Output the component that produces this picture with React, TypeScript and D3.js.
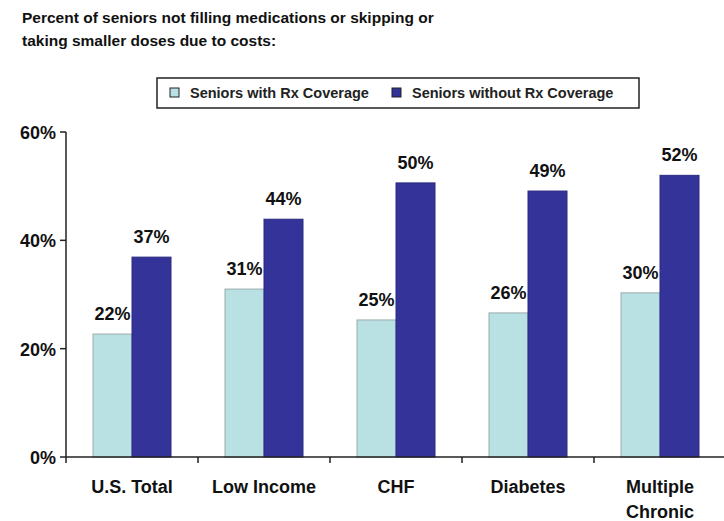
import React, { useEffect, useRef } from 'react';
import * as d3 from 'd3';

const categories = ['U.S. Total', 'Low Income', 'CHF', 'Diabetes', 'Multiple Chronic'];
const withCoverage = [22.7, 31.0, 25.3, 26.6, 30.3];
const withoutCoverage = [36.9, 43.9, 50.6, 49.1, 52.0];
const withLabels = ['22%', '31%', '25%', '26%', '30%'];
const withoutLabels = ['37%', '44%', '50%', '49%', '52%'];
const yTicks = [0, 20, 40, 60];
const seriesNames = ['Seniors with Rx Coverage', 'Seniors without Rx Coverage'];
const colors = ['#b9e1e4', '#333399'];

function App() {
	const ref = useRef<SVGSVGElement>(null);

	useEffect(() => {
		const svg = d3.select(ref.current);
		svg.selectAll('*').remove();

		const font = 'Liberation Sans, Arial, sans-serif';
		const left = 66;
		const right = 726;
		const top = 132;
		const bottom = 457;

		const x = d3.scaleBand().domain(categories).range([left, right]).paddingInner(0).paddingOuter(0);
		const sub = d3.scaleBand().domain(['0', '1']).range([0, 78]);
		const y = d3.scaleLinear().domain([0, 60]).range([bottom, top]);
		const off = (x.bandwidth() - 78) / 2;

		// title
		const title = svg.append('text')
			.attr('font-family', font)
			.attr('font-size', '15.5px')
			.attr('font-weight', 'bold')
			.attr('fill', '#111');
		title.append('tspan').attr('x', 22).attr('y', 23).text('Percent of seniors not filling medications or skipping or');
		title.append('tspan').attr('x', 22).attr('y', 46).text('taking smaller doses due to costs:');

		// legend
		svg.append('rect')
			.attr('x', 157).attr('y', 78).attr('width', 482).attr('height', 30)
			.attr('fill', 'white').attr('stroke', '#222').attr('stroke-width', 1.5);
		const legX = [170, 392];
		seriesNames.forEach((name, i) => {
			svg.append('rect')
				.attr('x', legX[i]).attr('y', 88).attr('width', 9).attr('height', 9)
				.attr('fill', colors[i]).attr('stroke', '#222').attr('stroke-width', 1);
			svg.append('text')
				.attr('x', legX[i] + 20).attr('y', 98)
				.attr('font-family', font)
				.attr('font-size', '14.5px')
				.attr('font-weight', 'bold')
				.attr('fill', '#222')
				.text(name);
		});

		// y axis
		svg.append('line')
			.attr('x1', left).attr('x2', left).attr('y1', top).attr('y2', bottom)
			.attr('stroke', '#222').attr('stroke-width', 1.5);
		svg.selectAll('.ytick')
			.data(yTicks)
			.enter()
			.append('line')
			.attr('x1', left - 6).attr('x2', left)
			.attr('y1', d => y(d)).attr('y2', d => y(d))
			.attr('stroke', '#222').attr('stroke-width', 1.5);
		svg.selectAll('.ylab')
			.data(yTicks)
			.enter()
			.append('text')
			.attr('x', left - 10)
			.attr('y', d => y(d) + 7)
			.attr('text-anchor', 'end')
			.attr('font-family', font)
			.attr('font-size', '18px')
			.attr('font-weight', 'bold')
			.attr('fill', '#111')
			.text(d => d + '%');

		// bars
		const series = [withCoverage, withoutCoverage];
		const labels = [withLabels, withoutLabels];
		series.forEach((vals, s) => {
			svg.selectAll('.bar' + s)
				.data(vals)
				.enter()
				.append('rect')
				.attr('x', (d, i) => (x(categories[i]) as number) + off + (sub(String(s)) as number))
				.attr('y', d => y(d))
				.attr('width', sub.bandwidth())
				.attr('height', d => bottom - y(d))
				.attr('fill', colors[s])
				.attr('stroke', s === 0 ? '#9aa' : '#2a2a80')
				.attr('stroke-width', 1);
			svg.selectAll('.lab' + s)
				.data(vals)
				.enter()
				.append('text')
				.attr('x', (d, i) => (x(categories[i]) as number) + off + (sub(String(s)) as number) + sub.bandwidth() / 2)
				.attr('y', d => y(d) - 14)
				.attr('text-anchor', 'middle')
				.attr('font-family', font)
				.attr('font-size', '18px')
				.attr('font-weight', 'bold')
				.attr('fill', '#111')
				.text((d, i) => labels[s][i]);
		});

		// x axis
		svg.append('line')
			.attr('x1', left).attr('x2', 724).attr('y1', bottom).attr('y2', bottom)
			.attr('stroke', '#222').attr('stroke-width', 1.5);
		svg.selectAll('.xtick')
			.data(categories)
			.enter()
			.append('line')
			.attr('x1', d => x(d) as number).attr('x2', d => x(d) as number)
			.attr('y1', bottom).attr('y2', bottom + 6)
			.attr('stroke', '#222').attr('stroke-width', 1.5);
		categories.forEach(c => {
			const words = c === 'Multiple Chronic' ? ['Multiple', 'Chronic'] : [c];
			words.forEach((w, j) => {
				svg.append('text')
					.attr('x', (x(c) as number) + x.bandwidth() / 2)
					.attr('y', 493 + j * 25)
					.attr('text-anchor', 'middle')
					.attr('font-family', font)
					.attr('font-size', '18px')
					.attr('font-weight', 'bold')
					.attr('fill', '#111')
					.text(w);
			});
		});
	}, []);

	return (
		<svg ref={ref} width={724} height={521} style={{ position: 'absolute', left: 0, top: 0, background: 'white' }} />
	);
}

export default App;
